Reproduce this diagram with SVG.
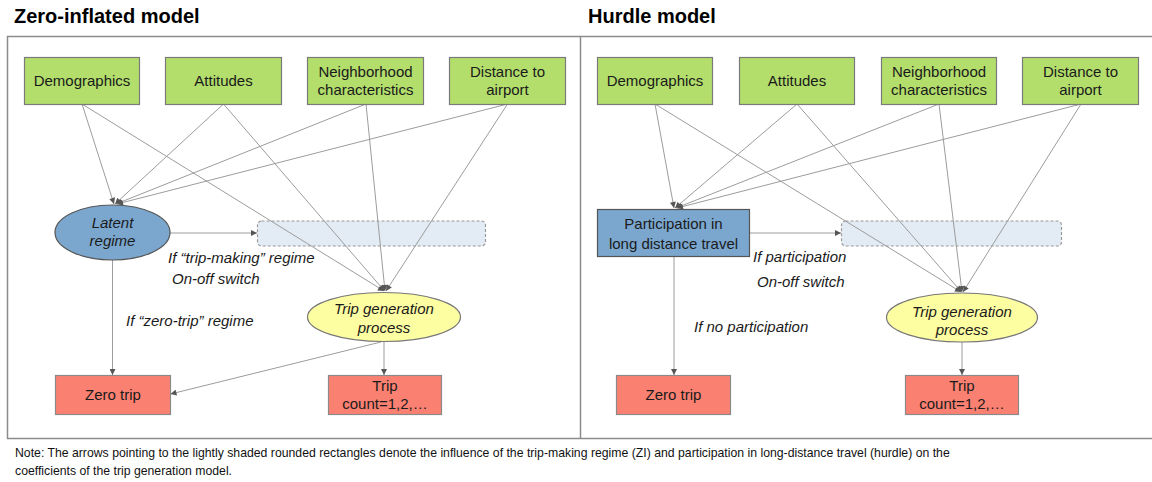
<svg xmlns="http://www.w3.org/2000/svg" width="1152" height="482" viewBox="0 0 1152 482">
  <style>
    text { font-family: "Liberation Sans", Arial, sans-serif; fill: #1a1a1a; }
    .title { font-size: 20px; font-weight: bold; fill: #000; }
    .lbl { font-size: 15px; text-anchor: middle; }
    .it { font-size: 15px; font-style: italic; }
    .itc { font-size: 15px; font-style: italic; text-anchor: middle; }
    .note { font-size: 12.25px; fill: #111; }
    .green { fill: #b3de6c; stroke: #7a7a7a; stroke-width: 1.2; }
    .red { fill: #fa8172; stroke: #8a8a8a; stroke-width: 1.2; }
    .blue { fill: #7ba7cf; stroke: #555; stroke-width: 1.2; }
    .yellow { fill: #fdfda2; stroke: #777; stroke-width: 1.2; }
    .coef { fill: #e3ebf5; stroke: #9a9a9a; stroke-width: 1.2; stroke-dasharray: 3 2; }
    .panel { fill: none; stroke: #8c8c8c; stroke-width: 1.5; }
    .edge { stroke: #9c9c9c; stroke-width: 1; fill: none; marker-end: url(#arr); }
  </style>
  <defs>
    <marker id="arr" viewBox="0 0 10 10" refX="10" refY="5" markerWidth="7" markerHeight="6" markerUnits="userSpaceOnUse" orient="auto">
      <path d="M0,0 L10,5 L0,10 Z" fill="#555"/>
    </marker>
  </defs>

  <rect width="1152" height="482" fill="#fff"/>

  <!-- panel frames -->
  <g id="panels">
    <text class="title" x="14" y="23">Zero-inflated model</text>
    <text class="title" x="588" y="23">Hurdle model</text>
    <rect class="panel" x="7.5" y="36.5" width="1160" height="402"/>
    <line class="panel" x1="580.5" y1="36.5" x2="580.5" y2="438.5"/>
  </g>

  <!-- shaded coefficient placeholders (drawn under the connectors) -->
  <g id="zi-coefficients">
    <rect class="coef" x="257.5" y="221" width="228" height="25" rx="4"/>
  </g>
  <g id="h-coefficients">
    <rect class="coef" x="841.5" y="221" width="220" height="25" rx="4"/>
  </g>

  <!-- connectors -->
  <g id="connectors">
    <!-- zero-inflated: covariates to latent regime -->
    <line class="edge" x1="82" y1="104" x2="114" y2="204"/>
    <line class="edge" x1="223.5" y1="104" x2="115" y2="204"/>
    <line class="edge" x1="366" y1="104" x2="116" y2="204"/>
    <line class="edge" x1="507.5" y1="104" x2="117" y2="204"/>
    <!-- zero-inflated: covariates to trip generation -->
    <line class="edge" x1="82" y1="104" x2="384" y2="291"/>
    <line class="edge" x1="223.5" y1="104" x2="384.5" y2="291"/>
    <line class="edge" x1="366" y1="104" x2="385" y2="291"/>
    <line class="edge" x1="507.5" y1="104" x2="386" y2="291"/>
    <!-- zero-inflated: regime and outcomes -->
    <line class="edge" x1="170" y1="233" x2="257" y2="233"/>
    <line class="edge" x1="112.5" y1="260" x2="112.5" y2="375"/>
    <line class="edge" x1="384" y1="342" x2="384" y2="375"/>
    <line class="edge" x1="381" y1="342" x2="170.5" y2="394"/>

    <!-- hurdle: covariates to participation -->
    <line class="edge" x1="655" y1="104" x2="674" y2="208"/>
    <line class="edge" x1="797" y1="104" x2="675" y2="208"/>
    <line class="edge" x1="939" y1="104" x2="676" y2="208"/>
    <line class="edge" x1="1081" y1="104" x2="677" y2="208"/>
    <!-- hurdle: covariates to trip generation -->
    <line class="edge" x1="655" y1="104" x2="961" y2="292"/>
    <line class="edge" x1="797" y1="104" x2="961.5" y2="292"/>
    <line class="edge" x1="939" y1="104" x2="962" y2="292"/>
    <line class="edge" x1="1081" y1="104" x2="963" y2="292"/>
    <!-- hurdle: participation and outcomes -->
    <line class="edge" x1="750" y1="233" x2="841" y2="233"/>
    <line class="edge" x1="674" y1="257" x2="674" y2="375"/>
    <line class="edge" x1="962" y1="342" x2="962" y2="375"/>
  </g>

  <!-- zero-inflated model nodes -->
  <g id="zi-demographics">
    <rect class="green" x="24.5" y="57.5" width="115" height="47"/>
    <text class="lbl" x="82" y="86">Demographics</text>
  </g>
  <g id="zi-attitudes">
    <rect class="green" x="165.5" y="57.5" width="116" height="47"/>
    <text class="lbl" x="223.5" y="86">Attitudes</text>
  </g>
  <g id="zi-neighborhood">
    <rect class="green" x="307.5" y="57.5" width="116" height="47"/>
    <text class="lbl" x="365.5" y="77">Neighborhood</text>
    <text class="lbl" x="365.5" y="95">characteristics</text>
  </g>
  <g id="zi-distance">
    <rect class="green" x="449.5" y="57.5" width="116" height="47"/>
    <text class="lbl" x="507.5" y="77">Distance to</text>
    <text class="lbl" x="507.5" y="95">airport</text>
  </g>
  <g id="zi-latent">
    <ellipse class="blue" cx="112.5" cy="232.5" rx="57.5" ry="27.5"/>
    <text class="itc" x="112.5" y="228">Latent</text>
    <text class="itc" x="112.5" y="246">regime</text>
  </g>
  <g id="zi-tripgen">
    <ellipse class="yellow" cx="384" cy="317" rx="76.5" ry="24.5"/>
    <text class="itc" x="384" y="313.5">Trip generation</text>
    <text class="itc" x="384" y="332.5">process</text>
  </g>
  <g id="zi-zero">
    <rect class="red" x="55.5" y="375.5" width="115" height="39"/>
    <text class="lbl" x="113" y="400">Zero trip</text>
  </g>
  <g id="zi-count">
    <rect class="red" x="328.5" y="375.5" width="113" height="39"/>
    <text class="lbl" x="385" y="391">Trip</text>
    <text class="lbl" x="385" y="409">count=1,2,…</text>
  </g>
  <g id="zi-labels">
    <text class="it" x="168" y="263">If “trip-making”  regime</text>
    <text class="it" x="172" y="284">On-off switch</text>
    <text class="it" x="126" y="326">If “zero-trip”  regime</text>
  </g>

  <!-- hurdle model nodes -->
  <g id="h-demographics">
    <rect class="green" x="597.5" y="57.5" width="115" height="47"/>
    <text class="lbl" x="655" y="86">Demographics</text>
  </g>
  <g id="h-attitudes">
    <rect class="green" x="739.5" y="57.5" width="115" height="47"/>
    <text class="lbl" x="797" y="86">Attitudes</text>
  </g>
  <g id="h-neighborhood">
    <rect class="green" x="881.5" y="57.5" width="115" height="47"/>
    <text class="lbl" x="939" y="77">Neighborhood</text>
    <text class="lbl" x="939" y="95">characteristics</text>
  </g>
  <g id="h-distance">
    <rect class="green" x="1022.5" y="57.5" width="116" height="47"/>
    <text class="lbl" x="1080.5" y="77">Distance to</text>
    <text class="lbl" x="1080.5" y="95">airport</text>
  </g>
  <g id="h-participation">
    <rect class="blue" x="597.5" y="209.5" width="152" height="47"/>
    <text class="lbl" x="673.5" y="229">Participation in</text>
    <text class="lbl" x="673.5" y="249">long distance travel</text>
  </g>
  <g id="h-tripgen">
    <ellipse class="yellow" cx="962" cy="317.5" rx="75.5" ry="24.5"/>
    <text class="itc" x="962" y="316.5">Trip generation</text>
    <text class="itc" x="962" y="335">process</text>
  </g>
  <g id="h-zero">
    <rect class="red" x="616.5" y="375.5" width="114" height="39"/>
    <text class="lbl" x="673.5" y="400">Zero trip</text>
  </g>
  <g id="h-count">
    <rect class="red" x="905.5" y="375.5" width="113" height="39"/>
    <text class="lbl" x="962" y="391">Trip</text>
    <text class="lbl" x="962" y="409">count=1,2,…</text>
  </g>
  <g id="h-labels">
    <text class="it" x="753" y="262">If participation</text>
    <text class="it" x="757" y="287">On-off switch</text>
    <text class="it" x="694" y="332">If no participation</text>
  </g>

  <!-- footnote -->
  <g id="note">
    <text class="note" x="15" y="457">Note: The arrows pointing to the lightly shaded rounded rectangles denote the influence of the trip-making regime (ZI) and participation in long-distance travel (hurdle) on the</text>
    <text class="note" x="15" y="475">coefficients of the trip generation model.</text>
  </g>
</svg>
